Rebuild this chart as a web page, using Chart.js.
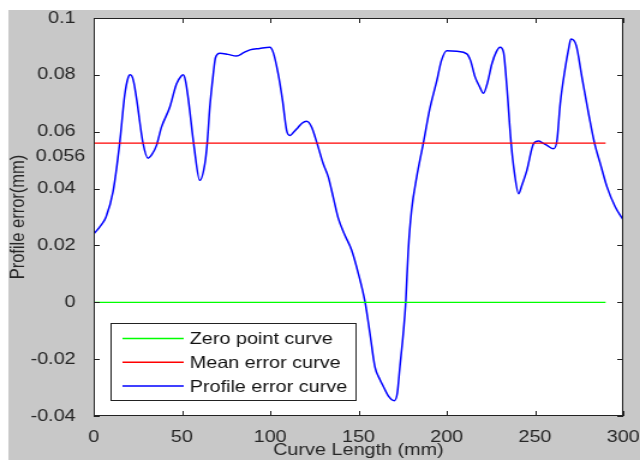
<!DOCTYPE html>
<html>
<head>
<meta charset="utf-8">
<script src="https://cdn.jsdelivr.net/npm/chart.js@4.4.1/dist/chart.umd.min.js"></script>
<style>
  html, body { margin: 0; padding: 0; background: #fff; overflow: hidden; }
  /* the reference figure is stretched sideways, so draw narrow and scale up */
  #profileChart { display: block; transform: scaleX(1.2008); transform-origin: 0 0; }
</style>
</head>
<body>
<canvas id="profileChart" width="533" height="460"></canvas>
<script>
// values
const curveLength = [0, 4, 7, 11, 14.7, 17.6, 19.5, 20.8, 22.5, 24.2, 28, 30.8, 33, 35.6, 38.4, 43.1, 46.9, 49.5, 50.7, 52, 53.5, 56.9, 60.1, 63, 64.3, 65.8, 67.7, 69, 71.5, 76, 80.9, 85, 88.5, 94, 99.8, 101.7, 104.5, 107, 109.3, 111.2, 113.5, 115.9, 118, 120.6, 123.5, 126.6, 130, 132.9, 135.7, 138.6, 142, 146.1, 149.9, 153.7, 156.5, 159.3, 162, 164.1, 167, 170.3, 172, 173.5, 175.4, 176.8, 178.2, 180.1, 183, 186.7, 190.4, 194.4, 197, 200, 205.7, 211.4, 213.5, 216.1, 218.5, 220.8, 223, 225.6, 228, 230.3, 232.2, 234.1, 236.5, 238.5, 240.7, 242.5, 245.4, 249.2, 252, 254.5, 256.8, 260.5, 262.5, 264.3, 267.2, 269, 270.4, 273.4, 276.6, 280.4, 283.8, 287, 290.8, 295.5, 300];
const profileError = [0.024, 0.027, 0.030, 0.039, 0.0558, 0.073, 0.079, 0.080, 0.078, 0.072, 0.0558, 0.0507, 0.052, 0.0552, 0.0616, 0.0686, 0.0768, 0.0795, 0.080, 0.078, 0.072, 0.0546, 0.0429, 0.0488, 0.0558, 0.0686, 0.080, 0.086, 0.0876, 0.0872, 0.0866, 0.0878, 0.0888, 0.0893, 0.0897, 0.0879, 0.0804, 0.071, 0.0605, 0.0587, 0.060, 0.0616, 0.063, 0.0637, 0.0616, 0.0558, 0.0488, 0.0441, 0.037, 0.0295, 0.024, 0.0184, 0.0102, 0.0002, -0.0109, -0.0226, -0.027, -0.0296, -0.033, -0.0346, -0.032, -0.0226, -0.0109, 0.0002, 0.018, 0.0324, 0.0441, 0.0558, 0.068, 0.078, 0.085, 0.0885, 0.0883, 0.0874, 0.085, 0.0792, 0.076, 0.0735, 0.077, 0.0839, 0.088, 0.0897, 0.0879, 0.0756, 0.0558, 0.045, 0.0382, 0.041, 0.0464, 0.0558, 0.0567, 0.056, 0.0552, 0.054, 0.057, 0.0698, 0.0827, 0.089, 0.0926, 0.0903, 0.0792, 0.0663, 0.0558, 0.0488, 0.0406, 0.0335, 0.0290];

const lineExtent = [0, 290];
const zeroPoint = [0, 0];
const meanError = [0.056, 0.056];

const seriesNames = ['Zero point curve', 'Mean error curve', 'Profile error curve'];

const xTicks = [0, 50, 100, 150, 200, 250, 300];
const yTicks = [-0.04, -0.02, 0, 0.02, 0.04, 0.06, 0.08, 0.1];
const yTickLabels = ['-0.04', '-0.02', '0', '0.02', '0.04', '0.06', '0.08', '0.1'];
const meanLabel = '0.056';

const FONT = "'Liberation Sans', Arial, sans-serif";
const TEXT = '#262626';

const toPoints = (xs, ys) => xs.map((x, i) => ({ x: x, y: ys[i] }));

const framePlugin = {
    id: 'frame',
    beforeDraw(chart) {
        const ctx = chart.ctx;
        const a = chart.chartArea;
        ctx.save();
        ctx.fillStyle = '#fff';
        ctx.fillRect(0, 0, chart.width, chart.height);
        ctx.fillStyle = '#c8c8c8';
        ctx.fillRect(7, 10, chart.width - 7, chart.height - 10);
        ctx.fillStyle = '#fff';
        ctx.fillRect(a.left, a.top, a.right - a.left, a.bottom - a.top);
        ctx.restore();
    },
    afterDraw(chart) {
        const ctx = chart.ctx;
        const a = chart.chartArea;
        const xs = chart.scales.x;
        const ys = chart.scales.y;
        ctx.save();

        // axes box with inward ticks
        ctx.strokeStyle = '#222';
        ctx.lineWidth = 1;
        ctx.strokeRect(a.left + 0.5, a.top + 0.5, a.right - a.left - 1, a.bottom - a.top - 1);
        ctx.beginPath();
        xTicks.forEach(v => {
            const px = Math.round(xs.getPixelForValue(v)) + 0.5;
            ctx.moveTo(px, a.bottom);
            ctx.lineTo(px, a.bottom - 5);
            ctx.moveTo(px, a.top);
            ctx.lineTo(px, a.top + 5);
        });
        yTicks.forEach(v => {
            const py = Math.round(ys.getPixelForValue(v)) + 0.5;
            ctx.moveTo(a.left, py);
            ctx.lineTo(a.left + 5, py);
            ctx.moveTo(a.right, py);
            ctx.lineTo(a.right - 5, py);
        });
        ctx.stroke();

        // extra label for the mean value, set just under its line
        ctx.fillStyle = TEXT;
        ctx.font = '16.5px ' + FONT;
        ctx.textAlign = 'right';
        ctx.textBaseline = 'middle';
        ctx.fillText(meanLabel, a.left - 7, ys.getPixelForValue(meanError[0]) + 13);

        // legend box in the lower left corner
        const boxL = a.left + 14, boxR = a.left + 218;
        const boxT = a.bottom - 93, boxB = a.bottom - 16;
        ctx.fillStyle = '#fff';
        ctx.fillRect(boxL, boxT, boxR - boxL, boxB - boxT);
        ctx.strokeStyle = '#222';
        ctx.strokeRect(boxL + 0.5, boxT + 0.5, boxR - boxL, boxB - boxT);
        ctx.textAlign = 'left';
        chart.data.datasets.forEach((ds, i) => {
            const y = boxT + 15.5 + i * 23.8;
            ctx.strokeStyle = ds.borderColor;
            ctx.lineWidth = 1.5;
            ctx.beginPath();
            ctx.moveTo(boxL + 10, y);
            ctx.lineTo(boxL + 61, y);
            ctx.stroke();
            ctx.fillStyle = '#111';
            ctx.fillText(ds.label, boxL + 66, y + 1);
        });
        ctx.restore();
    }
};

const ctx = document.getElementById('profileChart').getContext('2d');
const chart = new Chart(ctx, {
    type: 'line',
    data: {
        datasets: [{
            label: seriesNames[0],
            data: toPoints(lineExtent, zeroPoint),
            borderColor: 'rgb(0, 255, 0)',
            borderWidth: 1.3,
            pointRadius: 0
        }, {
            label: seriesNames[1],
            data: toPoints(lineExtent, meanError),
            borderColor: 'rgb(255, 0, 0)',
            borderWidth: 1.3,
            pointRadius: 0
        }, {
            label: seriesNames[2],
            data: toPoints(curveLength, profileError),
            borderColor: 'rgb(0, 0, 255)',
            borderWidth: 1.5,
            pointRadius: 0,
            cubicInterpolationMode: 'monotone'
        }]
    },
    options: {
        responsive: false,
        animation: false,
        devicePixelRatio: 1,
        layout: { padding: { left: 0, right: 14, top: 18, bottom: 0 } },
        plugins: {
            legend: { display: false },
            tooltip: { enabled: false }
        },
        scales: {
            x: {
                type: 'linear',
                min: 0,
                max: 300,
                afterBuildTicks: s => { s.ticks = xTicks.map(v => ({ value: v })); },
                afterFit: s => { s.height = 44; s.paddingLeft = 0; s.paddingRight = 0; },
                grid: { display: false },
                border: { display: false },
                ticks: {
                    autoSkip: false,
                    maxRotation: 0,
                    padding: 4,
                    color: TEXT,
                    font: { family: FONT, size: 16.5 }
                },
                title: {
                    display: true,
                    text: 'Curve Length (mm)',
                    color: TEXT,
                    font: { family: FONT, size: 16.5 },
                    padding: { top: 0, bottom: 0 }
                }
            },
            y: {
                min: -0.04,
                max: 0.1,
                afterBuildTicks: s => { s.ticks = yTicks.map(v => ({ value: v })); },
                afterFit: s => { s.width = 78; s.paddingTop = 0; s.paddingBottom = 0; },
                grid: { display: false },
                border: { display: false },
                ticks: {
                    autoSkip: false,
                    padding: 7,
                    color: TEXT,
                    font: { family: FONT, size: 16.5 },
                    callback: (value, index) => yTickLabels[index]
                },
                title: {
                    display: true,
                    text: 'Profile error(mm)',
                    color: TEXT,
                    font: { family: FONT, size: 16.5 },
                    padding: { top: 6, bottom: 0 }
                }
            }
        }
    },
    plugins: [framePlugin]
});
</script>
</body>
</html>
